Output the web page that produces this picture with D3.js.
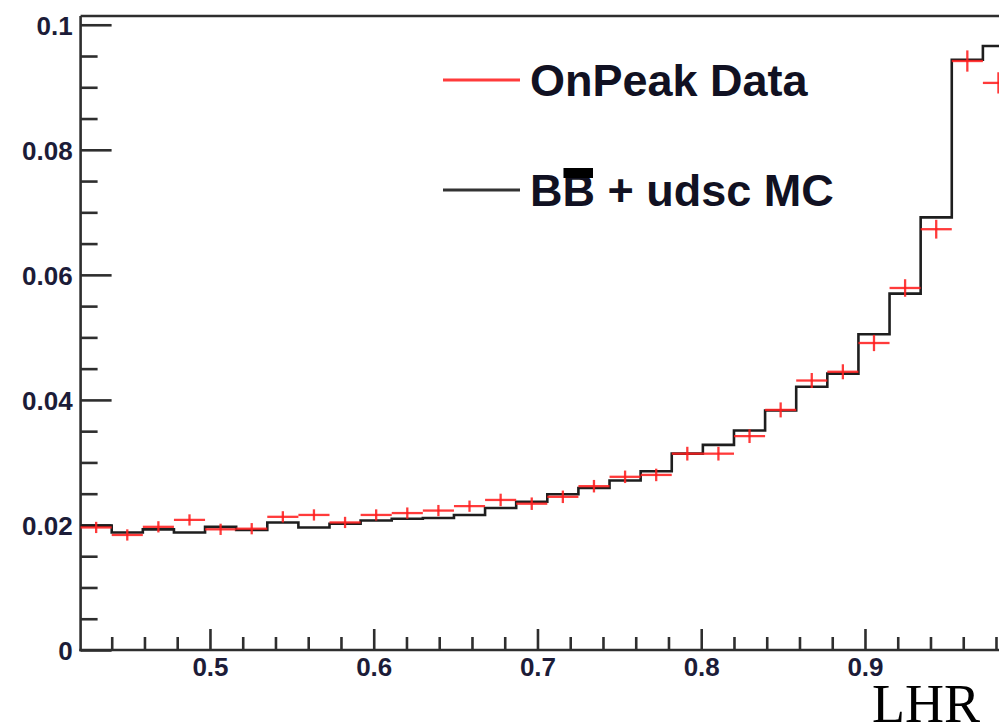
<!DOCTYPE html>
<html>
<head>
<meta charset="utf-8">
<script src="https://cdn.jsdelivr.net/npm/d3@7"></script>
<style>
  body { margin: 0; background: #ffffff; }
  svg { display: block; }
</style>
</head>
<body>
<svg id="chart" width="999" height="728"></svg>
<script>
// Histogram binning: 30 equal bins starting at binLow
const binLow = 0.421;
const binWidth = 0.019;
const binCount = 30;

// B Bbar + udsc MC, normalised content per bin
const mcValues = [
  0.0199, 0.0188, 0.0193, 0.0188, 0.0197, 0.0192, 0.0204, 0.0196, 0.0202, 0.0207,
  0.0210, 0.0211, 0.0216, 0.0227, 0.0237, 0.0249, 0.0259, 0.0271, 0.0286, 0.0314,
  0.0328, 0.0351, 0.0383, 0.0421, 0.0442, 0.0505, 0.0570, 0.0692, 0.0944, 0.0966
];

// OnPeak data, normalised content per bin
const dataValues = [
  0.0196, 0.0184, 0.0197, 0.0208, 0.0193, 0.0194, 0.0213, 0.0216, 0.0204, 0.0216,
  0.0219, 0.0223, 0.0230, 0.0240, 0.0234, 0.0245, 0.0262, 0.0277, 0.0280, 0.0314,
  0.0314, 0.0342, 0.0384, 0.0431, 0.0445, 0.0491, 0.0579, 0.0673, 0.0942, 0.0907
];

// Statistical uncertainty on the data per bin
const dataErrors = [
  0.0009, 0.0009, 0.0009, 0.0009, 0.0009, 0.0009, 0.0009, 0.0009, 0.0009, 0.0009,
  0.0009, 0.0009, 0.0009, 0.0010, 0.0010, 0.0010, 0.0010, 0.0010, 0.0010, 0.0011,
  0.0011, 0.0011, 0.0012, 0.0012, 0.0012, 0.0013, 0.0014, 0.0015, 0.0017, 0.0017
];

const yMajorTicks = [0, 0.02, 0.04, 0.06, 0.08, 0.1];
const yTickLabels = ["0", "0.02", "0.04", "0.06", "0.08", "0.1"];
const xMajorTicks = [0.5, 0.6, 0.7, 0.8, 0.9];
const xTickLabels = ["0.5", "0.6", "0.7", "0.8", "0.9"];

const legendEntries = [
  { key: "data", label: "OnPeak Data" },
  { key: "mc", label: "BB + udsc MC" }
];
const axisTitle = "LHR";

// ---- layout & styles ----
const frame = { left: 80.6, right: 1014, top: 16, bottom: 650 };
const colors = { data: "#ff1f1f", mc: "#1e1e1e", axis: "#2e2e2e", label: "#1c1c38" };

const svg = d3.select("#chart");

const xMax = binLow + binCount * binWidth;
const x = d3.scaleLinear().domain([binLow, xMax]).range([frame.left, frame.right]);
const y = d3.scaleLinear().domain([0, 0.1014]).range([frame.bottom, frame.top]);

const edge = i => binLow + i * binWidth;

// ---- frame ----
const frameG = svg.append("g").attr("stroke", colors.axis).attr("stroke-width", 2.6).attr("fill", "none");
frameG.append("line").attr("x1", frame.left).attr("x2", frame.right).attr("y1", frame.top).attr("y2", frame.top);
frameG.append("line").attr("x1", frame.left).attr("x2", frame.left).attr("y1", frame.top).attr("y2", frame.bottom + 1.3);
frameG.append("line").attr("x1", frame.left - 1.3).attr("x2", frame.right).attr("y1", frame.bottom).attr("y2", frame.bottom);

// ---- axes ----
const labelFont = "'Liberation Sans', Arial, Helvetica, sans-serif";

function styleAxis(g) {
  g.select(".domain").remove();
  g.selectAll(".tick line").attr("stroke", colors.axis).attr("stroke-width", 2.6);
  g.selectAll(".tick text")
    .attr("fill", colors.label)
    .style("font-family", labelFont)
    .style("font-size", "26px")
    .style("font-weight", "bold");
}

const yAxis = d3.axisLeft(y)
  .tickValues(yMajorTicks)
  .tickFormat((d, i) => yTickLabels[i])
  .tickSizeInner(-31).tickSizeOuter(0).tickPadding(8);
svg.append("g").attr("transform", `translate(${frame.left},0)`).call(yAxis).call(styleAxis)
  .selectAll(".tick text").attr("dy", "0.36em");

const yMinor = d3.range(0, 0.1001, 0.005).filter(v => !yMajorTicks.some(m => Math.abs(m - v) < 1e-6));
svg.append("g").attr("transform", `translate(${frame.left},0)`)
  .call(d3.axisLeft(y).tickValues(yMinor).tickFormat("").tickSizeInner(-17).tickSizeOuter(0))
  .call(styleAxis);

const xAxis = d3.axisBottom(x)
  .tickValues(xMajorTicks)
  .tickFormat((d, i) => xTickLabels[i])
  .tickSizeInner(-21).tickSizeOuter(0).tickPadding(8);
const xg = svg.append("g").attr("transform", `translate(0,${frame.bottom})`).call(xAxis).call(styleAxis);
xg.selectAll(".tick text").attr("y", 26).attr("dy", 0);

const xMinor = d3.range(0.44, 0.99, 0.02).filter(v => !xMajorTicks.some(m => Math.abs(m - v) < 1e-6));
svg.append("g").attr("transform", `translate(0,${frame.bottom})`)
  .call(d3.axisBottom(x).tickValues(xMinor).tickFormat("").tickSizeInner(-13).tickSizeOuter(0))
  .call(styleAxis);

// ---- MC histogram (step line) ----
const stepPoints = mcValues.map((v, i) => [edge(i), v]);
stepPoints.push([edge(binCount), mcValues[binCount - 1]]);
const stepLine = d3.line().x(d => x(d[0])).y(d => y(d[1])).curve(d3.curveStepAfter);
svg.append("path")
  .datum(stepPoints)
  .attr("d", stepLine)
  .attr("fill", "none")
  .attr("stroke", colors.mc)
  .attr("stroke-width", 2.6);

// ---- data points with error bars ----
const dataG = svg.append("g").attr("stroke", colors.data).attr("stroke-width", 2.3).attr("stroke-opacity", 0.88);
dataValues.forEach((v, i) => {
  const c = edge(i) + binWidth / 2;
  dataG.append("line")
    .attr("x1", x(edge(i))).attr("x2", x(edge(i + 1)))
    .attr("y1", y(v)).attr("y2", y(v));
  dataG.append("line")
    .attr("x1", x(c)).attr("x2", x(c))
    .attr("y1", y(v - dataErrors[i])).attr("y2", y(v + dataErrors[i]));
});

// ---- legend ----
const legendG = svg.append("g");
const legendRows = [80, 190];
legendEntries.forEach((e, i) => {
  const ly = legendRows[i];
  legendG.append("line")
    .attr("x1", 443).attr("x2", 520).attr("y1", ly).attr("y2", ly)
    .attr("stroke", e.key === "data" ? "#ff3b3b" : "#333333")
    .attr("stroke-width", 3);
  const t = legendG.append("text")
    .attr("x", 530).attr("y", ly + 16)
    .attr("fill", "#111122")
    .style("font-family", labelFont)
    .style("font-size", "45px")
    .style("font-weight", "bold")
    .text(e.label);
  if (e.key === "mc") {
    // overbar on the second B (anti-B meson)
    const ext = t.node().getExtentOfChar(1);
    legendG.append("rect")
      .attr("x", ext.x + 1).attr("width", ext.width - 3)
      .attr("y", ly - 22).attr("height", 10)
      .attr("fill", "#000000");
  }
});

// ---- axis title ----
svg.append("text")
  .attr("x", 872).attr("y", 722)
  .attr("fill", "#000000")
  .style("font-family", "'Liberation Serif', 'Times New Roman', serif")
  .style("font-size", "54px")
  .text(axisTitle);
</script>
</body>
</html>
